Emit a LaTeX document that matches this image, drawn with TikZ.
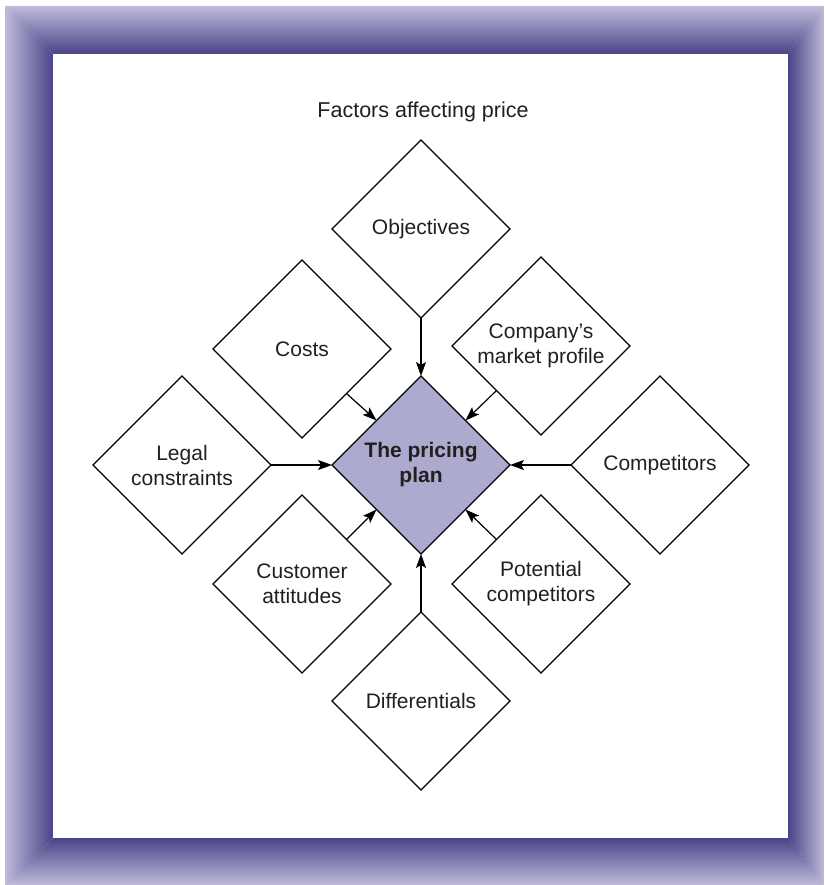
\documentclass[tikz,border=0pt]{standalone}
\usepackage{fontspec}
\setmainfont{Liberation Sans}
\usetikzlibrary{shapes.geometric,arrows.meta}
\definecolor{frlight}{HTML}{BEBBDA}
\definecolor{frdark}{HTML}{4A4488}
\definecolor{planfill}{HTML}{ADAACF}
\definecolor{txt}{HTML}{231F20}
\begin{document}
\begin{tikzpicture}[x=1pt,y=-1pt,
  dia/.style={diamond, aspect=1, draw=black, line width=1.2pt, minimum size=178pt,
    inner sep=0pt, outer sep=0pt, align=center, text=txt,
    font=\fontsize{21}{25}\selectfont},
  plannode/.style={dia, fill=planfill, font=\fontsize{21}{25}\selectfont\bfseries},
  arr/.style={line width=1.2pt, -{Stealth[length=14pt,width=10pt,inset=3pt]}},
  title/.style={text=txt, font=\fontsize{21.5}{25}\selectfont, inner sep=0pt}]
\useasboundingbox (0,0) rectangle (824,885);
\fill[white] (0,0) rectangle (824,885);
% frame
\shade[top color=frlight, bottom color=frdark] (5,6) -- (824,6) -- (788,54) -- (53,54) -- cycle;
\shade[top color=frdark, bottom color=frlight] (53,838) -- (788,838) -- (824,885) -- (5,885) -- cycle;
\shade[left color=frlight, right color=frdark] (5,6) -- (53,54) -- (53,838) -- (5,885) -- cycle;
\shade[left color=frdark, right color=frlight] (788,54) -- (824,6) -- (824,885) -- (788,838) -- cycle;
\fill[white] (53,54) rectangle (788,838);
% title
\node[title] (ttl) at (423,112) {Factors affecting price};
% diamonds
\node[plannode] (plan) at (421,465) {The pricing\\plan};
\node[dia] (obj) at (421,229) {Objectives};
\node[dia] (dif) at (421,701) {Differentials};
\node[dia] (leg) at (182,465) {Legal\\constraints};
\node[dia] (cpt) at (660,465) {Competitors};
\node[dia] (cst) at (302,349) {Costs};
\node[dia] (cmp) at (541,346) {Company’s\\market profile};
\node[dia] (cus) at (302,584) {Customer\\attitudes};
\node[dia] (pot) at (541,584) {Potential\\competitors};
% arrows
\draw[arr] (obj.south) -- (plan.north);
\draw[arr] (dif.north) -- (plan.south);
\draw[arr] (leg.east) -- (plan.west);
\draw[arr] (cpt.west) -- (plan.east);
\draw[arr] (cst.-45) -- (plan.135);
\draw[arr] (cmp.-135) -- (plan.45);
\draw[arr] (cus.45) -- (plan.-135);
\draw[arr] (pot.135) -- (plan.-45);
\end{tikzpicture}
\end{document}
